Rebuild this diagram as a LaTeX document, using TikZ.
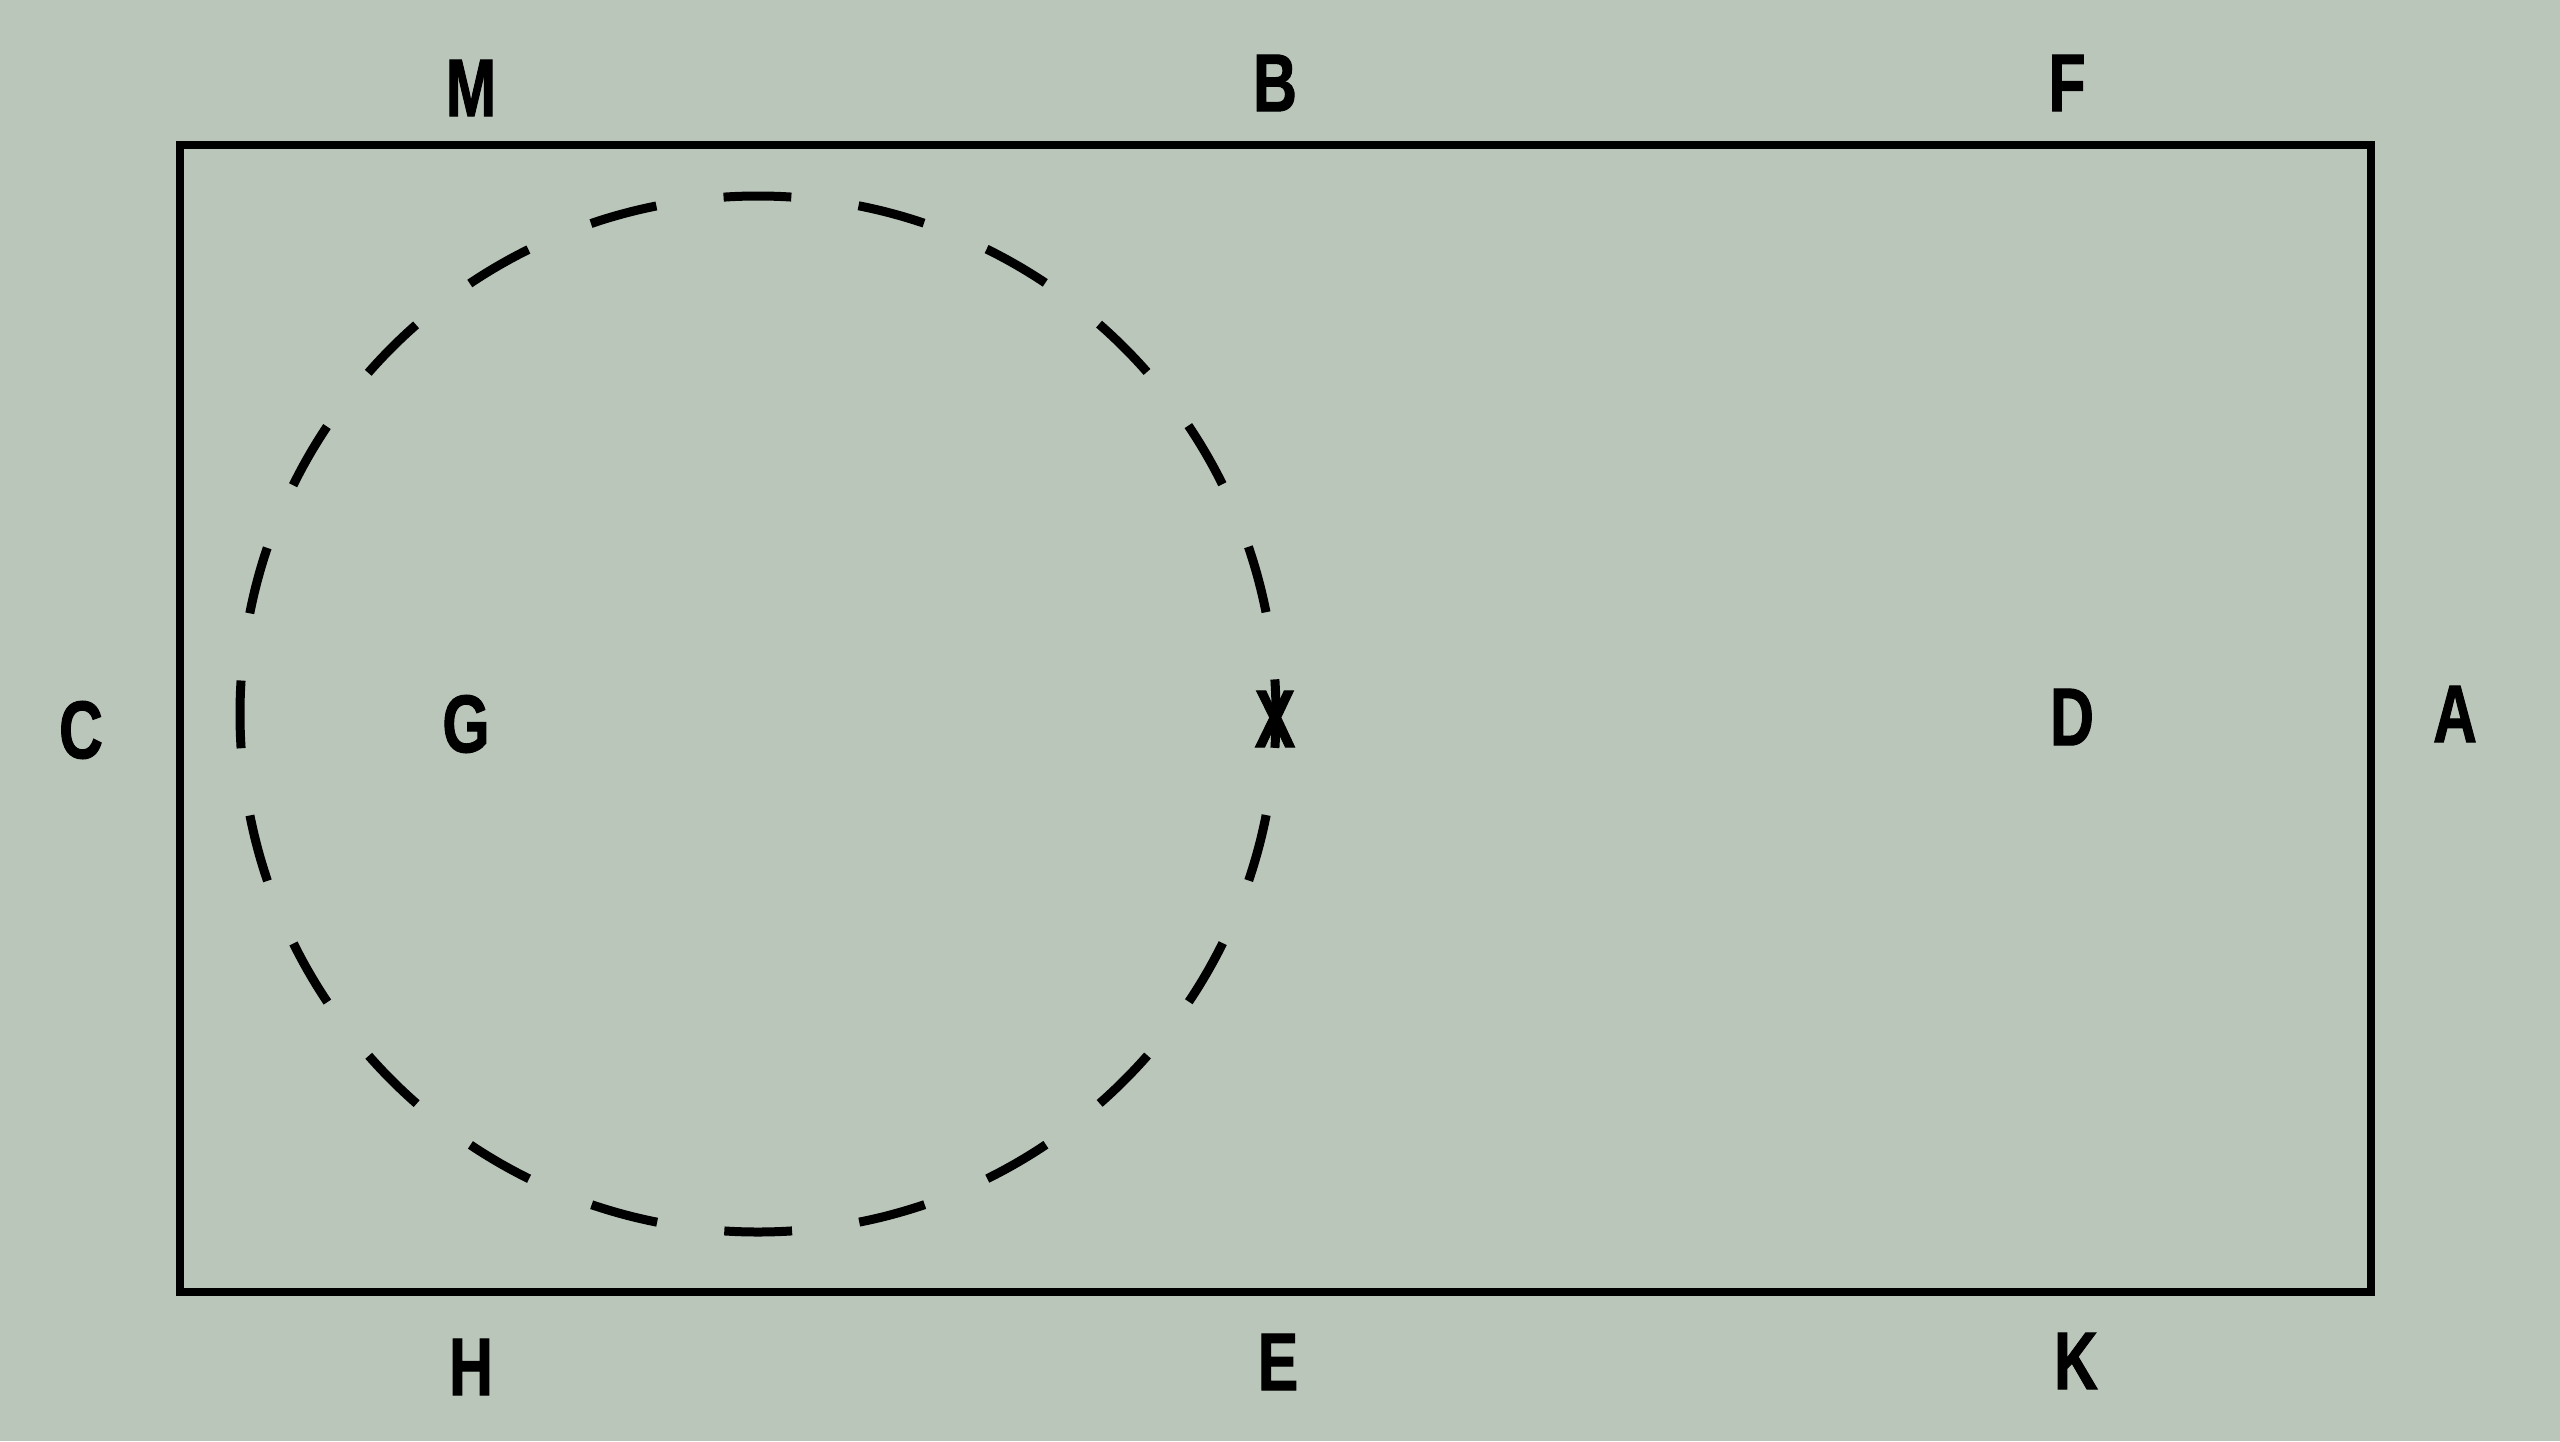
\documentclass[tikz,border=0pt]{standalone}
\usepackage{fontspec}
\usepackage{graphicx}
\newfontfamily\labfont{Liberation Sans}[FakeStretch=0.74,FakeBold=1.2]
\definecolor{bg}{RGB}{187,198,187}
\tikzset{
  lab/.style={inner sep=0pt, text=black, font=\labfont\bfseries\fontsize{82}{82}\selectfont},
  frame/.style={line width=7.5pt, draw=black},
  ring/.style={line width=9pt, draw=black, dash pattern=on 67.8pt off 67.8pt, dash phase=33.9pt}
}
\begin{document}
\begin{tikzpicture}[x=1pt,y=-1pt]
\fill[bg] (0,0) rectangle (2560,1441);
\useasboundingbox (0,0) rectangle (2560,1441);
\draw[frame] (180,145) rectangle (2371,1292);
\draw[ring] (758,714) circle[radius=518];
\node[lab] (M) at (471,88) {M};
\node[lab] (B) at (1275,83) {B};
\node[lab] (F) at (2067,83) {F};
\node[lab] (C) at (81,730) {C};
\node[lab] (G) at (466,724) {G};
\node[lab] (X) at (1275,719) {X};
\node[lab] (D) at (2072,717) {D};
\node[lab] (A) at (2455,714) {A};
\node[lab] (H) at (471,1367) {H};
\node[lab] (E) at (1278,1362) {E};
\node[lab] (K) at (2076,1361) {K};
\end{tikzpicture}
\end{document}
